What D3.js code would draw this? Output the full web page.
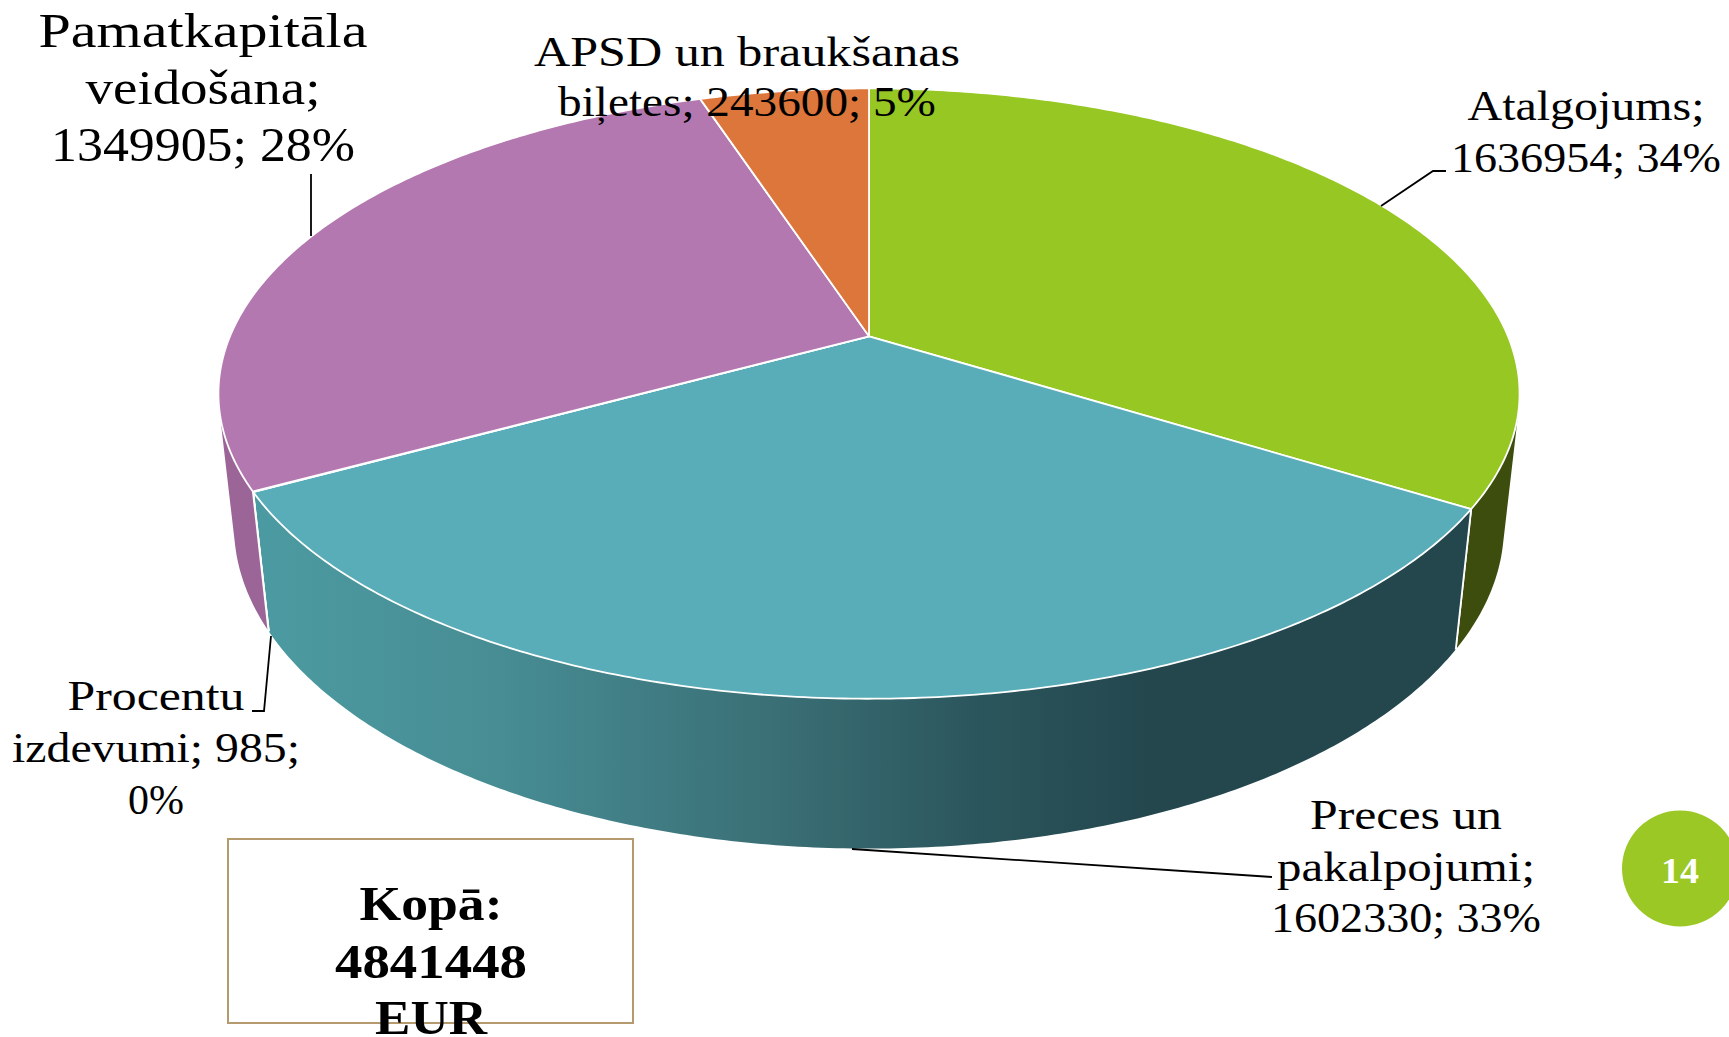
<!DOCTYPE html>
<html><head><meta charset="utf-8">
<script src="https://cdnjs.cloudflare.com/ajax/libs/d3/7.8.5/d3.min.js"></script>
<style>html,body{margin:0;padding:0;background:#fff;overflow:hidden}svg{display:block}text{font-family:"Liberation Serif",serif}</style>
</head><body><svg id="c" width="1729" height="1037"></svg>
<script>
const categories = ["Atalgojums","Preces un pakalpojumi","Procentu izdevumi","Pamatkapitāla veidošana","APSD un braukšanas biļetes"];
const values = [1636954,1602330,985,1349905,243600];
const percents = ["34%","33%","0%","28%","5%"];
const topColors = ["#97c723","#59adb9","#59adb9","#b478b0","#dd763b"];
const wallColors = ["#3d4d0e","url(#tealWall)","#4c9aa1","#9b6697","#a85a2c"];
const labelLines = [
  ["Atalgojums;","1636954; 34%"],
  ["Preces un","pakalpojumi;","1602330; 33%"],
  ["Procentu","izdevumi; 985;","0%"],
  ["Pamatkapitāla","veidošana;","1349905; 28%"],
  ["APSD un braukšanas","biļetes; 243600; 5%"]
];
const labelWidths = [[237,270],[192,258,270],[177,288,56],[329,235,304],[426,378]];
const labelCx = [1586,1406,156,203,747];
const labelBaseline = [120,829,710,47,66];
const labelSpacing = [52,51.5,52,57,50];
const labelSize = [43,43,43,48,43];
const leaders = [[[1381,206],[1433,171],[1446,171]],[[852,849],[1272,877]],[[271,636],[264,711],[252,711]],[[311,236],[311,174]]];
const totalLines = ["Kopā:","4841448","EUR"];
const totalWidths = [143,192,112];
const totalBaselines = [920,978,1034];
const pageNumber = "14";

const svg = d3.select("#c");
const cx=869, cy=336.3, A=639, B=294.4, C=133.9, k=0.1877, m=0.0237;
// perspective projection of the pie's unit disc: z=0 top face, z=1 bottom face
const proj=(a,z,r=1)=>{const u=r*Math.sin(a),v=r*Math.cos(a),w=1+k*v+m*z;return [cx+A*u/w,cy+(-B*v+C*z)/w];};
const line=d3.line();
const arcs=d3.pie().sort(null).startAngle(0).endAngle(2*Math.PI)(values);
const samples=(d)=>{const n=Math.max(2,Math.ceil((d.endAngle-d.startAngle)/0.01));return d3.range(n+1).map(i=>d.startAngle+(d.endAngle-d.startAngle)*i/n);};

const defs=svg.append("defs");
const xGrad=d3.scaleLinear().domain([0,1]).range([proj(arcs[1].endAngle,1)[0],proj(arcs[1].startAngle,1)[0]]);
const g=defs.append("linearGradient").attr("id","tealWall").attr("gradientUnits","userSpaceOnUse")
  .attr("x1",xGrad(0)).attr("x2",xGrad(1)).attr("y1",0).attr("y2",0);
[[0,"#4c9aa1"],[0.2,"#478c93"],[0.45,"#386c72"],[0.6,"#2b555c"],[0.74,"#24474e"],[1,"#24474e"]]
  .forEach(s=>g.append("stop").attr("offset",s[0]).attr("stop-color",s[1]));

// walls: only the outward-facing part of each slice's rim
const walls=svg.append("g");
arcs.forEach((d,i)=>{
  const ss=samples(d);
  const front=[];
  for(let j=0;j<ss.length-1;j++){
    const p=proj(ss[j],0),q=proj(ss[j+1],0),r=proj(ss[j+1],1),s=proj(ss[j],1);
    const area=d3.polygonArea([p,q,r,s]);
    if(area>0){ if(!front.length) front.push(ss[j]); front.push(ss[j+1]); }
  }
  if(front.length<2) return;
  const pts=front.map(a=>proj(a,0)).concat(front.slice().reverse().map(a=>proj(a,1)));
  walls.append("path").attr("d",line(pts)+"Z").attr("fill",wallColors[i]);
  [front[0],front[front.length-1]].forEach(a=>{
    if(a===d.startAngle||a===d.endAngle)
      walls.append("path").attr("d",line([proj(a,0),proj(a,1)])).attr("stroke","#fff").attr("stroke-width",1.8).attr("fill","none");
  });
});

// top faces
const tops=svg.append("g");
arcs.forEach((d,i)=>{
  const pts=[[cx,cy]].concat(samples(d).map(a=>proj(a,0)));
  tops.append("path").attr("d",line(pts)+"Z").attr("fill",topColors[i])
    .attr("stroke","#fff").attr("stroke-width",1.8).attr("stroke-linejoin","round");
});

// leaders
svg.append("g").selectAll("path").data(leaders).join("path").attr("d",d=>line(d))
  .attr("fill","none").attr("stroke","#000").attr("stroke-width",1.8);

// a line of text stretched to the width it has in the picture
function fitted(t,x,y,size,width,weight,fill){
  const el=svg.append("text").attr("text-anchor","middle").attr("font-size",size)
    .attr("font-weight",weight).attr("fill",fill).text(t);
  const sx=width/el.node().getComputedTextLength();
  el.attr("transform",`translate(${x},${y}) scale(${sx},1)`);
}
labelLines.forEach((ls,i)=>ls.forEach((t,j)=>
  fitted(t,labelCx[i],labelBaseline[i]+j*labelSpacing[i],labelSize[i],labelWidths[i][j],"normal","#000")));

// total box
svg.append("rect").attr("x",228).attr("y",839).attr("width",405).attr("height",184)
  .attr("fill","none").attr("stroke","#b49a6e").attr("stroke-width",2);
totalLines.forEach((t,j)=>fitted(t,431,totalBaselines[j],48,totalWidths[j],"bold","#000"));

// page number
svg.append("circle").attr("cx",1680).attr("cy",868.5).attr("r",58).attr("fill","#9bc824");
fitted(pageNumber,1680,883,36,38,"bold","#fff");
</script></body></html>
